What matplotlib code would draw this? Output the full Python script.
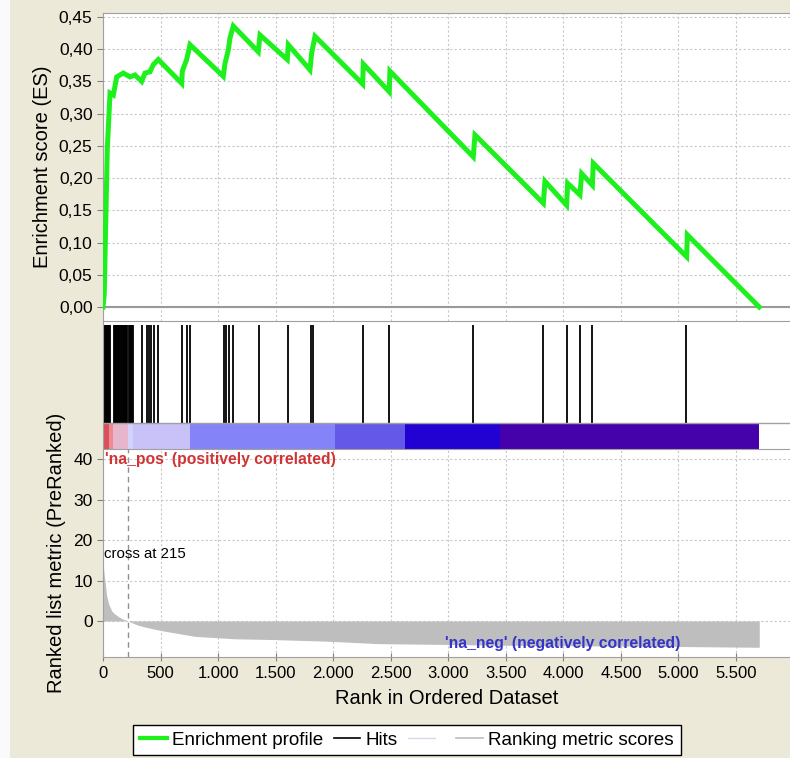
import matplotlib.pyplot as plt
from matplotlib.lines import Line2D
from matplotlib.patches import Rectangle
from matplotlib.ticker import FuncFormatter

plt.rcParams['font.family'] = ['Liberation Sans', 'DejaVu Sans']

# running enrichment score, vertices along the ranked list
es_rank = [0, 11, 23, 37, 46, 61, 90, 119, 176, 235, 278, 336, 365, 408, 437, 480,
           684, 689, 727, 756, 1045, 1060, 1089, 1103, 1132, 1349, 1364, 1601, 1610,
           1798, 1813, 1842, 2256, 2262, 2487, 2493, 3217, 3232, 3826, 3840, 4028,
           4037, 4144, 4159, 4252, 4260, 5071, 5077, 5702]
es_val = [0.0, 0.02, 0.125, 0.244, 0.277, 0.332, 0.329, 0.357, 0.363, 0.357, 0.360,
          0.350, 0.363, 0.365, 0.376, 0.384, 0.347, 0.366, 0.384, 0.407, 0.358, 0.378,
          0.399, 0.417, 0.436, 0.396, 0.422, 0.384, 0.407, 0.368, 0.394, 0.420, 0.346,
          0.377, 0.334, 0.366, 0.233, 0.267, 0.161, 0.195, 0.158, 0.192, 0.174, 0.207,
          0.189, 0.223, 0.078, 0.112, 0.0]

# positions of gene set members in the ranked list
hits = [3, 11, 19, 27, 35, 43, 51, 59,
        92, 100, 108, 116, 124, 132, 140, 148, 156, 164, 172, 180, 188, 196, 204, 212,
        226, 234, 242, 250, 258,
        341, 379, 396, 413, 440, 480, 689, 727, 756, 1049, 1069, 1092, 1133,
        1352, 1607, 1810, 1827, 2256, 2485, 3218, 3826, 4032, 4142, 4252, 5069]

# heat bar blocks along the ranked list
bar_start = [0, 50, 90, 215, 260, 756, 2016, 2624, 3449]
bar_end = [50, 90, 215, 260, 756, 2016, 2624, 3449, 5702]
bar_color = ['#D9505A', '#EE8A92', '#E6B6CC', '#D2D2FA', '#C8C2F8',
             '#8484F8', '#6458E8', '#2202D2', '#4602AA']

# ranked list metric
metric_rank = [0, 10, 32, 50, 75, 100, 133, 170, 215, 300, 365, 510, 800, 1147,
               1494, 1955, 2390, 3000, 3500, 4000, 4500, 5000, 5702]
metric_val = [14.5, 11.5, 6.2, 4.2, 2.5, 1.8, 1.1, 0.5, 0.0, -1.0, -1.5, -2.4, -3.8,
              -4.4, -4.6, -5.0, -5.6, -5.8, -6.0, -6.1, -6.2, -6.3, -6.5]
cross_at = 215

es_green = '#1EF01E'
grid_kw = dict(color='#C8C8C8', linestyle=(0, (2, 2)), linewidth=0.8)
xmax = 5969

fig = plt.figure(figsize=(7.9, 7.58), dpi=100, facecolor='#ECE9D8')
fig.patches.append(Rectangle((0, 0), 10 / 790, 1, transform=fig.transFigure,
                             facecolor='#FAFAFA', edgecolor='none', zorder=-1))

ax_es = fig.add_axes([103 / 790, 1 - 321 / 758, 687 / 790, 308 / 758])
ax_hit = fig.add_axes([103 / 790, 1 - 449 / 758, 687 / 790, 128 / 758])
ax_rk = fig.add_axes([103 / 790, 1 - 657 / 758, 687 / 790, 208 / 758])

for ax in (ax_es, ax_hit, ax_rk):
    ax.set_xlim(0, xmax)
    ax.set_facecolor('white')
    for s in ax.spines.values():
        s.set_color('#A0A0A0')
    ax.spines['right'].set_visible(False)
    ax.set_xticks(range(0, 5501, 500))
    ax.tick_params(colors='#808080', labelcolor='black', labelsize=12, length=4)
    ax.tick_params(axis='y', labelsize=12.5)

# enrichment profile
ax_es.set_ylim(-0.0217, 0.4562)
ax_es.set_yticks([i * 0.05 for i in range(10)])
ax_es.yaxis.set_major_formatter(FuncFormatter(lambda v, p: f"{v:.2f}".replace('.', ',')))
ax_es.tick_params(axis='x', bottom=False, labelbottom=False)
ax_es.grid(True, **grid_kw)
ax_es.axhline(0, color='#999999', linewidth=1.5, zorder=2)
ax_es.plot(es_rank, es_val, color=es_green, linewidth=3.6, solid_joinstyle='miter', zorder=3)
ax_es.spines['bottom'].set_visible(False)
ax_es.set_ylabel('Enrichment score (ES)', fontsize=14.5, labelpad=5)

# hits and heat bar
ax_hit.set_ylim(0, 1)
ax_hit.set_yticks([])
ax_hit.tick_params(axis='x', bottom=False, labelbottom=False)
ax_hit.vlines(hits, 0.203, 0.969, color='black', linewidth=1.3)
for x0, x1, c in zip(bar_start, bar_end, bar_color):
    ax_hit.add_patch(Rectangle((x0, 0), x1 - x0, 0.203, facecolor=c, edgecolor='none'))
ax_hit.axhline(0.203, color='#A0A0A0', linewidth=1)
ax_hit.spines['bottom'].set_visible(False)

# ranked list metric
ax_rk.set_ylim(-8.9, 42.5)
ax_rk.set_yticks([0, 10, 20, 30, 40])
ax_rk.xaxis.set_major_formatter(FuncFormatter(lambda v, p: f"{int(v):,}".replace(',', '.')))
ax_rk.tick_params(axis='x', direction='inout', length=6)
ax_rk.grid(True, **grid_kw)
ax_rk.fill_between(metric_rank, metric_val, 0, color='#BEBEBE', linewidth=0, zorder=2)
ax_rk.axvline(cross_at, color='#909090', linestyle=(0, (4, 3)), linewidth=1, zorder=3)
ax_rk.text(5, 16.5, f'cross at {cross_at}', fontsize=10.8, va='center', ha='left')
ax_rk.text(20, 39.8, "'na_pos' (positively correlated)", color='#D03434',
           fontsize=11.3, fontweight='bold', va='center', ha='left')
ax_rk.text(2970, -5.6, "'na_neg' (negatively correlated)", color='#3434C8',
           fontsize=11.3, fontweight='bold', va='center', ha='left', zorder=4)
ax_rk.set_ylabel('Ranked list metric (PreRanked)', fontsize=14.5, labelpad=5)
ax_rk.set_xlabel('Rank in Ordered Dataset', fontsize=14.5, labelpad=6)

handles = [Line2D([], [], color=es_green, linewidth=3),
           Line2D([], [], color='black', linewidth=1.2),
           Line2D([], [], color='#D8D8EC', linewidth=1),
           Line2D([], [], color='#BEBEBE', linewidth=1.2)]
labels = ['Enrichment profile', 'Hits', ' ', 'Ranking metric scores']
leg = fig.legend(handles, labels, ncol=4, loc='upper center',
                 bbox_to_anchor=(407 / 790, 1 - 725 / 758), fontsize=13.6,
                 frameon=True, fancybox=False, framealpha=1, edgecolor='black',
                 handlelength=1.4, handletextpad=0.3, columnspacing=0.55,
                 borderpad=0.35, borderaxespad=0)
leg.get_frame().set_linewidth(1)

fig.savefig('out.png', dpi=100, facecolor=fig.get_facecolor())
